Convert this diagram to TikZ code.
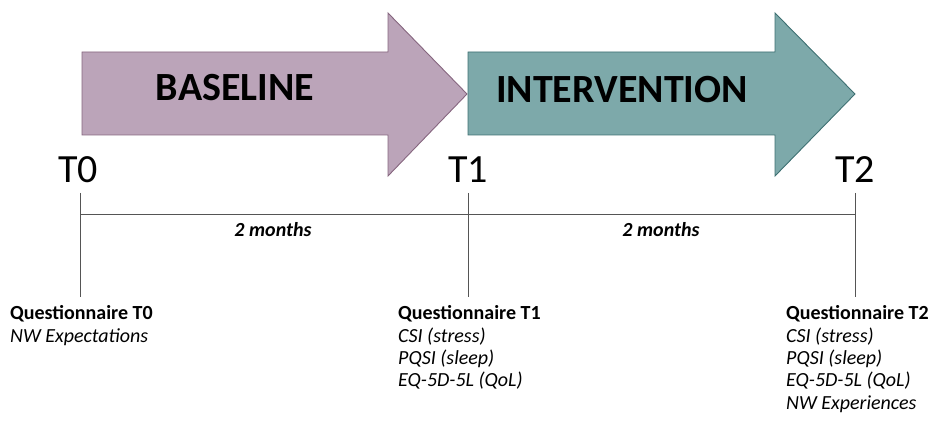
\documentclass[tikz,border=0pt]{standalone}
\usepackage{fontspec}
\setmainfont{Carlito}
\definecolor{mauvefill}{HTML}{BBA4B9}
\definecolor{mauveline}{HTML}{86667F}
\definecolor{tealfill}{HTML}{7DA9AA}
\definecolor{tealline}{HTML}{3E7072}
\definecolor{axis}{HTML}{555555}
\begin{document}
\begin{tikzpicture}[x=1pt,y=-1pt,
  phasearrow/.style={line width=0.9pt, line join=miter},
  phasetext/.style={font=\fontsize{40}{44}\selectfont\bfseries, text=black, inner sep=0pt},
  tlabel/.style={font=\fontsize{40}{44}\selectfont, anchor=base, inner sep=0pt},
  axisline/.style={draw=axis, line width=0.7pt},
  durtext/.style={font=\fontsize{20}{22}\selectfont\bfseries\itshape, inner sep=0pt},
  qhead/.style={font=\fontsize{20}{22}\selectfont\bfseries, anchor=base west, inner sep=0pt},
  qitem/.style={font=\fontsize{20}{22}\selectfont\itshape, anchor=base west, inner sep=0pt}]
\useasboundingbox (0,0) rectangle (930,422);
% arrows
\path[phasearrow, fill=mauvefill, draw=mauveline]
  (82,52) -- (388,52) -- (388,13) -- (467,94) -- (388,176) -- (388,135) -- (82,135) -- cycle;
\path[phasearrow, fill=tealfill, draw=tealline]
  (468,52) -- (775,52) -- (775,13) -- (855,94) -- (775,176) -- (775,135) -- (468,135) -- cycle;
\node[phasetext] (baseline) at (235,88) {BASELINE};
\node[phasetext] (interv) at (622,90) {INTERVENTION};
% time labels
\node[tlabel] (t0) at (78,183) {T0};
\node[tlabel] (t1) at (468,183) {T1};
\node[tlabel] (t2) at (855,183) {T2};
% timeline
\coordinate (t0top) at (80,193);
\coordinate (t1top) at (468,193);
\coordinate (t2top) at (855,193);
\coordinate (t0bot) at (80,297);
\coordinate (t1bot) at (468,297);
\coordinate (t2bot) at (855,297);
\coordinate (h0) at (80,214);
\coordinate (h2) at (855,214);
\draw[axisline] (t0top) -- (t0bot);
\draw[axisline] (t1top) -- (t1bot);
\draw[axisline] (t2top) -- (t2bot);
\draw[axisline] (h0) -- (h2);
\node[durtext] (d1) at (273,230) {2 months};
\node[durtext] (d2) at (661,230) {2 months};
% questionnaires
\node[qhead] (q0) at (10,320) {Questionnaire T0};
\node[qitem] (q0a) at (10,343) {NW Expectations};
\node[qhead] (q1) at (398,320) {Questionnaire T1};
\node[qitem] (q1a) at (398,343) {CSI (stress)};
\node[qitem] (q1b) at (398,365) {PQSI (sleep)};
\node[qitem] (q1c) at (398,387) {EQ-5D-5L (QoL)};
\node[qhead] (q2) at (786,320) {Questionnaire T2};
\node[qitem] (q2a) at (786,343) {CSI (stress)};
\node[qitem] (q2b) at (786,365) {PQSI (sleep)};
\node[qitem] (q2c) at (786,387) {EQ-5D-5L (QoL)};
\node[qitem] (q2d) at (786,409) {NW Experiences};
\end{tikzpicture}
\end{document}
